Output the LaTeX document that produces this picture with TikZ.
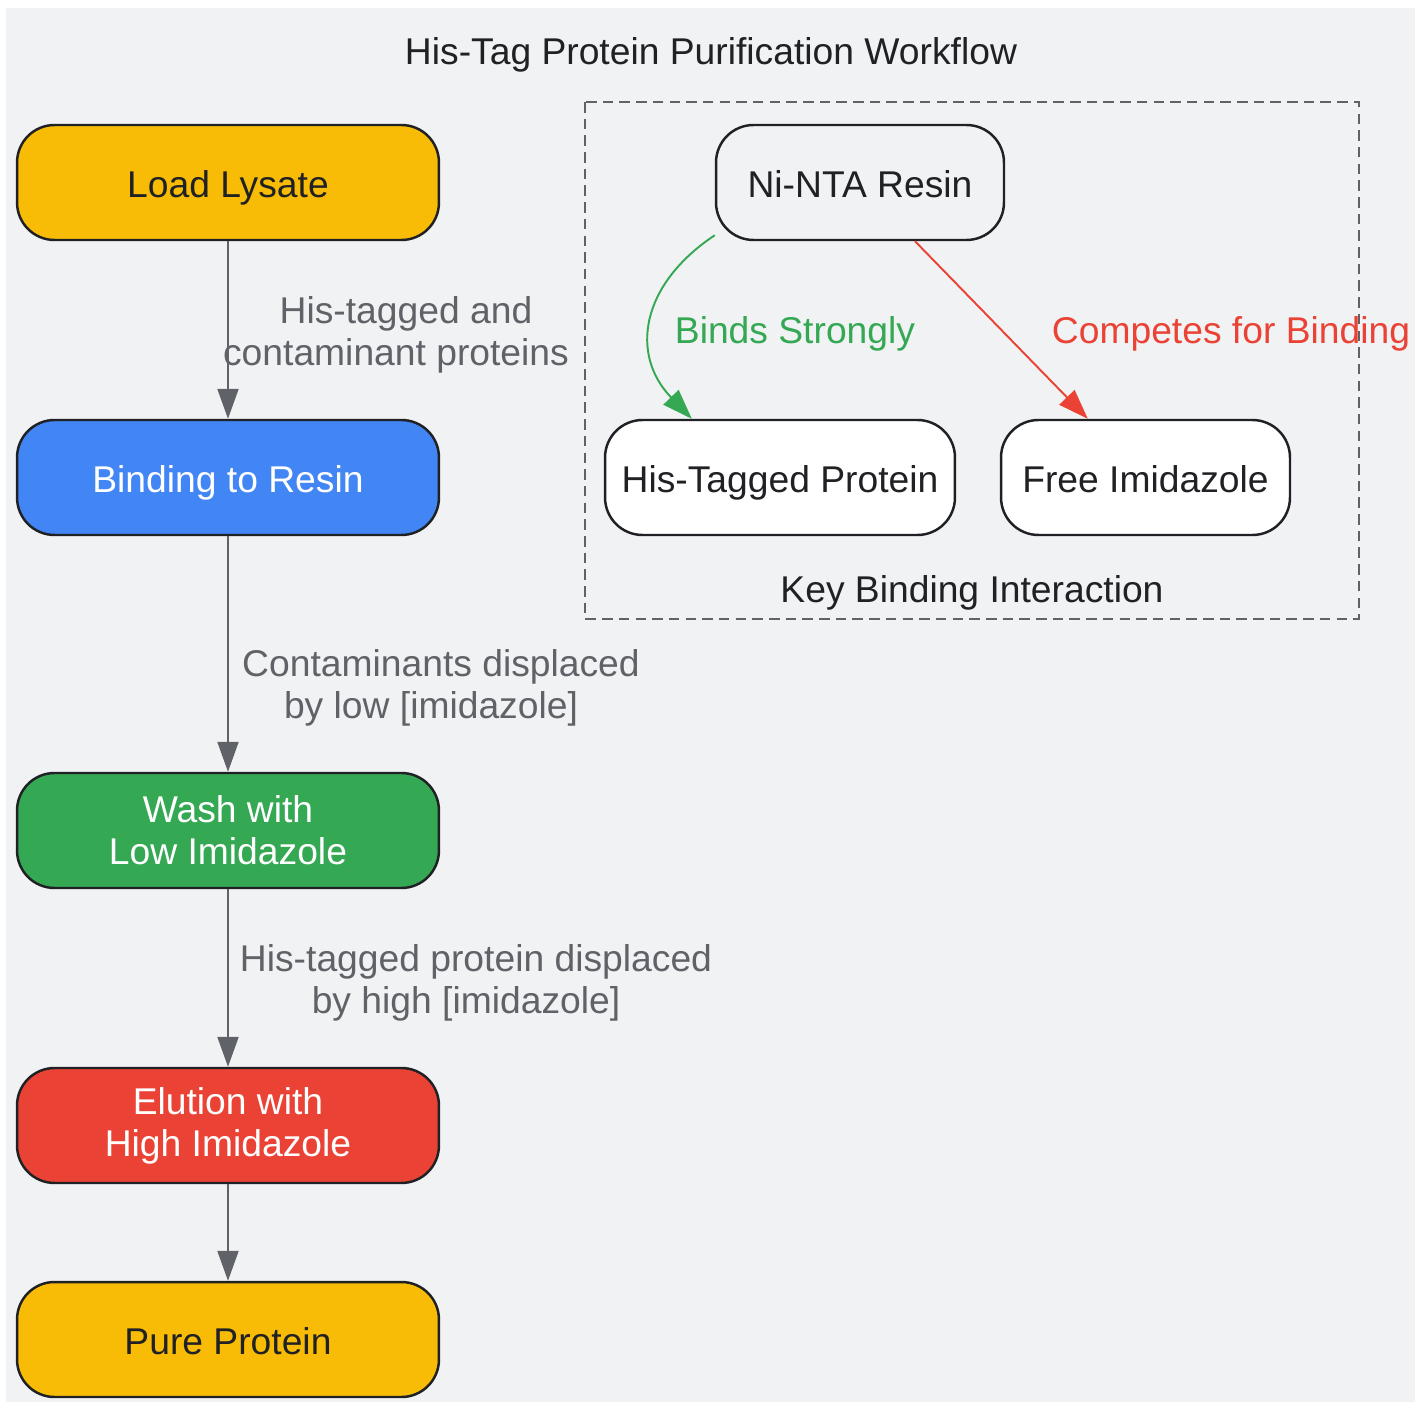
\documentclass[tikz,border=0pt]{standalone}
\usepackage{fontspec}
\setmainfont{Liberation Sans}
\usepackage{tikz}
\usepackage{xcolor}
\usetikzlibrary{arrows.meta,calc}
\definecolor{Fond}{HTML}{F1F2F4}
\definecolor{Encre}{HTML}{202124}
\definecolor{Gris}{HTML}{5F6368}
\definecolor{Jaune}{HTML}{F9BC06}
\definecolor{Bleu}{HTML}{4285F4}
\definecolor{Vert}{HTML}{34A853}
\definecolor{Rouge}{HTML}{EA4335}
\tikzset{
Etape/.style={
 draw=Encre, 
 line width=1.4pt, 
 rounded corners=0.75cm, 
 minimum width=8.44cm, 
 minimum height=2.3cm, 
 align=center, 
 font=\fontsize{21.2}{23.8}\selectfont
 },
Ligne/.style={
 text height=0.75cm, 
 text depth=0.15cm
 },
Cle/.style={
 Etape, 
 Ligne, 
 minimum width=#1, 
 fill=white, 
 text=Encre
 },
Cle/.default={5.8cm},
Fleche/.style={
 draw=Gris, 
 line width=1.3pt, 
 -{Triangle[length=0.6cm,width=0.42cm]}
 },
EtiqFleche/.style={
 align=center, 
 text=Gris, 
 inner sep=0pt, 
 font=\fontsize{21.2}{23.8}\selectfont
 }
}
\begin{document}
\begin{tikzpicture}[x=0.02cm,y=-0.02cm]
\useasboundingbox (0,0) rectangle (1424,1402);
\fill[Fond] (6,8) rectangle (1415,1402);
\node[EtiqFleche,text=Encre] (titre) at (711,55) {His-Tag Protein Purification Workflow};
% etapes
\node[Etape,Ligne,fill=Jaune,text=Encre] (charge) at (228,182.5) {Load Lysate};
\node[Etape,Ligne,fill=Bleu,text=white] (fixe) at (228,477.5) {Binding to Resin};
\node[Etape,fill=Vert,text=white] (lavage) at (228,830.5) {Wash with\\Low Imidazole};
\node[Etape,fill=Rouge,text=white] (elution) at (228,1125.5) {Elution with\\High Imidazole};
\node[Etape,Ligne,fill=Jaune,text=Encre] (pure) at (228,1339.5) {Pure Protein};
\draw[Fleche] (charge) -- (fixe);
\draw[Fleche] (fixe) -- (lavage);
\draw[Fleche] (lavage) -- (elution);
\draw[Fleche] (elution) -- (pure);
\node[EtiqFleche] (etiqA) at (396,335) {\hspace*{0.4cm}His-tagged and\\contaminant proteins};
\node[EtiqFleche] (etiqB) at (441,688) {Contaminants displaced\\by low [imidazole]\hspace*{0.4cm}};
\node[EtiqFleche] (etiqC) at (476,983) {His-tagged protein displaced\\by high [imidazole]\hspace*{0.4cm}};
% interaction
\draw[Gris,line width=1.3pt,dash pattern=on 6pt off 3.5pt] (585,102) rectangle (1359,619);
\node[EtiqFleche,text=Encre] (cadre) at (972,593) {Key Binding Interaction};
\node[Cle=5.76cm,fill=Fond] (resine) at (860,182.5) {Ni-NTA Resin};
\node[Cle=7cm] (prot) at (780,477.5) {His-Tagged Protein};
\node[Cle=5.78cm] (imid) at (1145.5,477.5) {Free Imidazole};
\draw[Fleche,draw=Vert,line width=1.1pt] ($(resine.south west)+(0,-6)$) .. controls (640,285) and (630,355) .. ($(prot.north west)+(88,0)$);
\draw[Fleche,draw=Rouge,line width=1.1pt] ($(resine.south)+(55,0)$) -- ($(imid.north west)+(88,0)$);
\node[EtiqFleche,text=Vert] (etiqD) at (795,334) {Binds Strongly};
\node[EtiqFleche,text=Rouge] (etiqE) at (1231,334) {Competes for Binding};
\end{tikzpicture}
\end{document}
